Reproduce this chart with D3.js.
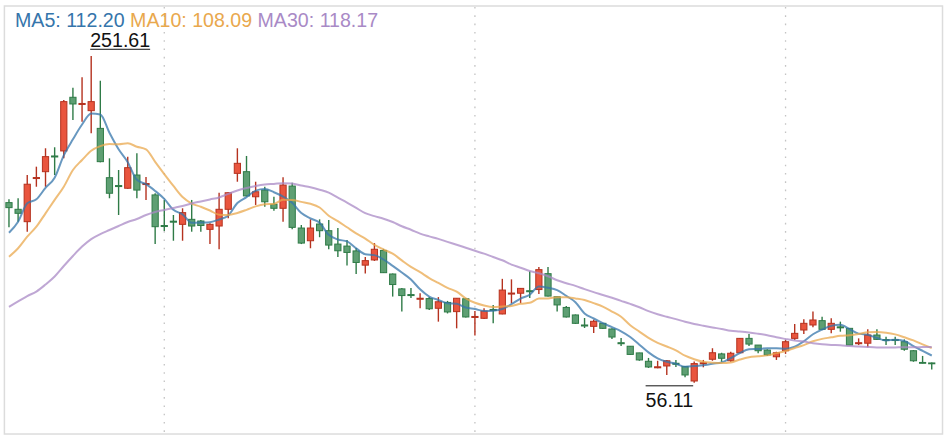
<!DOCTYPE html>
<html>
<head>
<meta charset="utf-8">
<script src="https://cdn.jsdelivr.net/npm/d3@7"></script>
<style>
  body { margin: 0; background: #fff; }
  svg { display: block; font-family: 'Liberation Sans', Arial, sans-serif; }
</style>
</head>
<body>
<div id="chart"></div>
<script>
// candle values (index = trading day in view)
const opens = [
  163.9, 159.9, 152.5, 178.3, 182.4, 191.8, 194.8, 226.9, 222.6, 218.9,
  208.3, 178.8, 174.1, 172.5, 180.4, 174.7, 168.5, 150.2, 152.8, 150.9,
  153.9, 152.9, 147.9, 149.9, 159.9, 181.4, 182.4, 167.4, 171.4, 162.9,
  160.5, 173.8, 148.7, 141.1, 151.1, 147.1, 139.1, 137.9, 135.0, 126.5,
  129.6, 135.3, 121.2, 112.3, 108.9, 106.1, 106.5, 100.7, 104.2, 98.7,
  106.4, 95.2, 94.7, 100.0, 97.3, 109.2, 109.7, 111.2, 111.9, 121.4,
  107.6, 101.2, 96.7, 90.7, 89.9, 91.7, 88.3, 80.1, 78.0, 74.0,
  69.0, 65.1, 66.2, 67.8, 65.8, 57.2, 67.5, 70.2, 73.4, 69.3,
  74.1, 82.7, 78.7, 75.7, 71.7, 75.3, 82.7, 87.7, 90.7, 93.3,
  88.1, 89.6, 88.7, 79.5, 79.8, 84.7, 82.0, 82.0, 80.7, 75.3,
  68.3, 68.0
]
const closes = [
  160.9, 157.5, 174.9, 178.9, 191.4, 191.2, 224.3, 222.9, 223.2, 224.3,
  188.4, 169.5, 173.5, 184.8, 171.4, 175.3, 149.5, 149.6, 152.2, 157.9,
  149.9, 150.2, 150.9, 159.9, 169.8, 187.4, 167.9, 170.4, 164.4, 160.5,
  174.4, 149.1, 139.7, 148.7, 147.1, 138.5, 135.1, 134.1, 128.1, 129.2,
  136.0, 122.0, 114.9, 108.3, 108.3, 106.7, 100.4, 104.6, 98.5, 106.7,
  95.5, 95.8, 99.0, 99.4, 111.6, 109.8, 112.6, 110.6, 123.8, 108.0,
  102.7, 95.5, 91.7, 90.1, 92.9, 88.7, 83.5, 79.5, 73.1, 69.8,
  65.6, 65.7, 69.3, 67.2, 60.8, 67.6, 68.1, 74.1, 70.8, 73.8,
  82.7, 79.3, 75.3, 72.8, 74.1, 80.7, 85.7, 91.7, 93.7, 88.1,
  91.7, 89.0, 78.7, 80.1, 84.7, 82.1, 81.4, 81.4, 76.2, 69.3,
  67.8, 67.5
]
const highs = [
  165.9, 166.5, 180.4, 185.4, 196.4, 197.0, 225.3, 232.6, 238.9, 251.61,
  236.8, 190.4, 183.4, 191.4, 193.4, 179.2, 169.5, 165.5, 156.5, 160.5,
  165.5, 153.5, 151.5, 169.8, 170.1, 196.4, 191.8, 176.4, 173.4, 167.4,
  179.0, 175.8, 150.5, 153.9, 153.9, 153.5, 148.7, 141.5, 136.8, 131.4,
  139.7, 136.2, 121.5, 112.8, 112.8, 109.7, 107.4, 107.4, 105.1, 106.8,
  106.8, 99.1, 100.7, 102.7, 118.3, 118.0, 112.8, 122.9, 125.4, 125.4,
  107.7, 102.1, 97.0, 94.9, 93.9, 91.9, 88.7, 82.9, 78.1, 74.1,
  71.0, 69.3, 69.8, 69.8, 66.2, 68.9, 69.8, 76.8, 74.1, 74.7,
  82.9, 85.3, 78.8, 76.2, 74.7, 81.7, 91.3, 94.1, 98.7, 95.7,
  94.7, 92.7, 88.9, 82.7, 88.1, 88.1, 83.7, 83.7, 82.1, 75.7,
  72.2, 68.2
]
const lows = [
  149.1, 152.5, 146.5, 173.4, 173.4, 180.4, 190.4, 213.3, 212.3, 205.4,
  188.0, 166.5, 156.5, 172.2, 166.5, 165.5, 139.1, 146.9, 141.1, 141.1,
  146.5, 146.5, 139.1, 136.0, 154.5, 176.4, 167.6, 162.5, 161.5, 159.1,
  152.5, 147.9, 139.1, 136.6, 143.2, 136.0, 131.4, 126.3, 121.2, 121.5,
  129.0, 121.8, 107.7, 98.7, 106.8, 100.7, 99.7, 92.7, 97.6, 88.7,
  95.2, 84.4, 94.3, 91.7, 97.1, 103.7, 103.7, 106.8, 109.2, 107.7,
  98.7, 95.2, 91.3, 88.9, 85.9, 88.3, 82.3, 78.1, 72.8, 69.3,
  65.0, 64.8, 60.8, 65.6, 59.4, 56.11, 65.4, 69.3, 68.7, 68.7,
  73.9, 78.1, 73.8, 72.2, 69.8, 73.4, 81.7, 85.3, 89.3, 87.7,
  85.7, 86.7, 78.6, 78.7, 77.4, 81.7, 78.7, 78.7, 75.3, 68.7,
  67.7, 64.1
]

// moving averages at the left edge depend on days before the view
const ma5Lead = [145.9, 152.5, 163.5, 165.9]
const ma10Lead = [131.5, 136.6, 143.5, 149.5, 157.5, 165.5, 173.4, 183.4, 189.4]
const ma30Lead = [
  101.6, 104.8, 108.0, 110.7, 114.9, 119.7, 126.0, 132.0, 137.6, 142.1,
  145.1, 147.5, 149.9, 152.3, 154.1, 156.5, 158.3, 159.5, 160.7, 161.9,
  163.4, 164.6, 165.8, 167.0, 169.1, 171.1, 172.6, 173.8, 174.7
]

const legendLabels = ['MA5: 112.20', 'MA10: 108.09', 'MA30: 118.17']
const gridDays = [17, 51, 85]
const priceDomain = [25.5, 281.5]

const width = 946
const height = 436
const plot = { left: 4.4, top: 6, right: 942.5, bottom: 434 }

const upColor = { fill: '#e9553e', stroke: '#b5321f' }
const downColor = { fill: '#5e9f73', stroke: '#2f7b47' }
const maLines = [
  { days: 5, lead: ma5Lead, color: '#3575ab' },
  { days: 10, lead: ma10Lead, color: '#e9a84d' },
  { days: 30, lead: ma30Lead, color: '#a98ac6' }
]

const n = closes.length
const candles = d3.range(n).map(i => ({
  i,
  open: opens[i],
  close: closes[i],
  high: highs[i],
  low: lows[i]
}))

function movingAverage(days, lead) {
  return closes.map((c, i) =>
    i < days - 1 ? lead[i] : d3.mean(closes.slice(i - days + 1, i + 1))
  )
}

const svg = d3
  .select('#chart')
  .append('svg')
  .attr('width', width)
  .attr('height', height)

const x = d3
  .scaleBand()
  .domain(d3.range(n))
  .range([plot.left, 936.3])

const cx = i => x(i) + x.bandwidth() / 2
const bodyWidth = x.bandwidth() * 0.68

const y = d3
  .scaleLinear()
  .domain(priceDomain)
  .range([plot.bottom, plot.top])

// frame
svg
  .append('rect')
  .attr('x', plot.left)
  .attr('y', plot.top)
  .attr('width', plot.right - plot.left)
  .attr('height', plot.bottom - plot.top)
  .attr('fill', 'none')
  .attr('stroke', '#dcdcdc')
  .attr('stroke-width', 1.5)

// dotted day gridlines
svg
  .selectAll('.grid')
  .data(gridDays)
  .enter()
  .append('line')
  .attr('class', 'grid')
  .attr('x1', d => cx(d))
  .attr('x2', d => cx(d))
  .attr('y1', plot.top + 1)
  .attr('y2', plot.bottom - 1)
  .attr('stroke', '#c4c4c4')
  .attr('stroke-width', 1.3)
  .attr('stroke-dasharray', '1.6,6.7')

// candles
const candle = svg
  .selectAll('.candle')
  .data(candles)
  .enter()
  .append('g')
  .attr('class', 'candle')
  .each(function(d) {
    const g = d3.select(this)
    const c = d.close >= d.open ? upColor : downColor
    g.append('line')
      .attr('x1', cx(d.i))
      .attr('x2', cx(d.i))
      .attr('y1', y(d.high))
      .attr('y2', y(d.low))
      .attr('stroke', c.stroke)
      .attr('stroke-width', 1.4)
    const top = y(Math.max(d.open, d.close))
    const h = Math.abs(y(d.open) - y(d.close))
    g.append('rect')
      .attr('x', cx(d.i) - bodyWidth / 2)
      .attr('y', top)
      .attr('width', bodyWidth)
      .attr('height', Math.max(h, 0.4))
      .attr('fill', c.fill)
      .attr('stroke', c.stroke)
      .attr('stroke-width', 1)
  })

// moving average lines
const line = d3
  .line()
  .x((d, i) => cx(i))
  .y(d => y(d))
  .curve(d3.curveMonotoneX)

maLines.forEach(ma => {
  svg
    .append('path')
    .datum(movingAverage(ma.days, ma.lead))
    .attr('d', line)
    .attr('fill', 'none')
    .attr('stroke', ma.color)
    .attr('stroke-opacity', 0.75)
    .attr('stroke-width', 2)
})

// legend
const legend = svg
  .append('text')
  .attr('x', 15)
  .attr('y', 27)
  .attr('font-size', 19.6)

legendLabels.forEach((label, k) => {
  legend
    .append('tspan')
    .attr('fill', maLines[k].color)
    .text((k > 0 ? ' ' : '') + label)
})

// highest and lowest price marks
const hi = d3.maxIndex(highs)
const lo = d3.minIndex(lows)

const hiText = svg
  .append('text')
  .attr('x', cx(hi) - 1)
  .attr('y', y(highs[hi]) - 9.3)
  .attr('font-size', 19.6)
  .attr('fill', '#111')
  .text(highs[hi].toFixed(2))
const hiW = hiText.node().getComputedTextLength()
svg
  .append('line')
  .attr('x1', cx(hi) - 1)
  .attr('x2', cx(hi) - 1 + hiW)
  .attr('y1', y(highs[hi]) - 6.7)
  .attr('y2', y(highs[hi]) - 6.7)
  .attr('stroke', '#111')
  .attr('stroke-width', 1)

const loText = svg
  .append('text')
  .attr('x', cx(lo) - 1)
  .attr('y', y(lows[lo]) + 24)
  .attr('text-anchor', 'end')
  .attr('font-size', 19.6)
  .attr('fill', '#111')
  .text(lows[lo].toFixed(2))
const loW = loText.node().getComputedTextLength()
svg
  .append('line')
  .attr('x1', cx(lo) - 1 - loW)
  .attr('x2', cx(lo) - 1)
  .attr('y1', y(lows[lo]) + 3)
  .attr('y2', y(lows[lo]) + 3)
  .attr('stroke', '#111')
  .attr('stroke-width', 1)
</script>
</body>
</html>
